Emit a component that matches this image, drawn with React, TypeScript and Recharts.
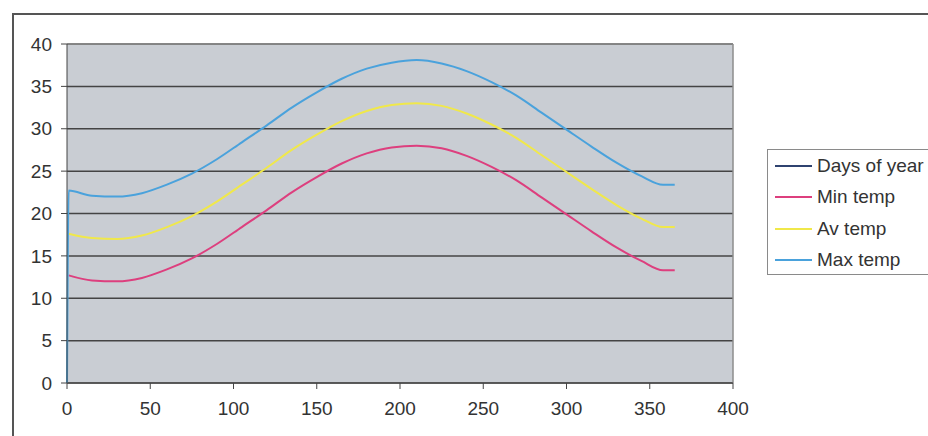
import { LineChart, Line, XAxis, YAxis, CartesianGrid, ReferenceLine } from "recharts";

// day of year -> temperature readings
const days = [0, 1, 15, 30, 45, 60, 75, 90, 105, 120, 135, 150, 165, 180, 195, 210, 225, 240, 255, 270, 285, 300, 315, 330, 345, 358, 365];
const minTemp = [null, 12.7, 12.1, 12.0, 12.4, 13.4, 14.7, 16.4, 18.4, 20.4, 22.5, 24.3, 25.9, 27.1, 27.8, 28.0, 27.7, 26.8, 25.5, 23.9, 21.9, 19.9, 17.9, 16.0, 14.4, 13.3, 13.3];
const avTemp = [null, 17.6, 17.1, 17.0, 17.4, 18.4, 19.7, 21.4, 23.4, 25.4, 27.5, 29.3, 30.9, 32.1, 32.8, 33.0, 32.7, 31.8, 30.5, 28.9, 26.9, 24.9, 22.9, 21.0, 19.4, 18.4, 18.4];
const maxTemp = [0, 22.7, 22.1, 22.0, 22.4, 23.4, 24.7, 26.4, 28.4, 30.4, 32.5, 34.3, 35.9, 37.1, 37.8, 38.1, 37.7, 36.8, 35.5, 33.9, 31.9, 29.9, 27.9, 26.0, 24.4, 23.4, 23.4];

const xTicks = [0, 50, 100, 150, 200, 250, 300, 350, 400];
const yTicks = [0, 5, 10, 15, 20, 25, 30, 35, 40];

const SERIES = [
  { key: "days", name: "Days of year", color: "#2f4370" },
  { key: "min", name: "Min temp", color: "#dd3f7e" },
  { key: "av", name: "Av temp", color: "#f0e84a" },
  { key: "max", name: "Max temp", color: "#4aa2dc" },
];

const data = days.map((d, i) => ({ day: d, min: minTemp[i], av: avTemp[i], max: maxTemp[i] }));

const FONT = "'Liberation Sans', Arial, sans-serif";
const tickStyle = { fill: "#333", fontSize: 19, fontFamily: FONT };

function LegendBox() {
  return (
    <div style={{ position: "absolute", left: 767, top: 149, background: "#fff", border: "1px solid #8a8a8a", width: 175, height: 126, padding: "0 0 0 6px", boxSizing: "border-box", fontFamily: FONT, fontSize: 19, color: "#333" }}>
      {SERIES.map((s) => (
        <div key={s.key} style={{ display: "flex", alignItems: "center", height: 31.5 }}>
          <svg width={40} height={4} style={{ marginRight: 3 }}>
            <line x1={1} y1={2} x2={38} y2={2} stroke={s.color} strokeWidth={2} />
          </svg>
          <span>{s.name}</span>
        </div>
      ))}
    </div>
  );
}

export default function App() {
  return (
    <div style={{ position: "absolute", left: 0, top: 0, width: 928, height: 436, background: "#fff", overflow: "hidden" }}>
      <div style={{ position: "absolute", left: 12, top: 13, width: 940, height: 440, borderTop: "2px solid #555", borderLeft: "2px solid #555" }} />
      <LineChart width={928} height={436} data={data} margin={{ top: 44, right: 195, left: 0, bottom: 0 }}>
        <CartesianGrid vertical={false} fill="#c9cdd3" stroke="#444" strokeWidth={1.5} />
        <XAxis
          dataKey="day"
          type="number"
          domain={[0, 400]}
          ticks={xTicks}
          interval={0}
          height={53}
          tick={tickStyle}
          tickSize={6}
          tickMargin={13}
          stroke="#444"
        />
        <YAxis
          type="number"
          domain={[0, 40]}
          ticks={yTicks}
          interval={0}
          width={67}
          tick={tickStyle}
          tickSize={6}
          tickMargin={9}
          stroke="#444"
        />
        <ReferenceLine y={40} stroke="#8d8d8d" strokeWidth={1.5} />
        <ReferenceLine x={400} stroke="#8d8d8d" strokeWidth={1.5} />
        {SERIES.map((s) => (
          <Line
            key={s.key}
            dataKey={s.key}
            name={s.name}
            type="monotone"
            stroke={s.color}
            strokeWidth={2}
            dot={false}
            isAnimationActive={false}
          />
        ))}
      </LineChart>
      <LegendBox />
    </div>
  );
}
